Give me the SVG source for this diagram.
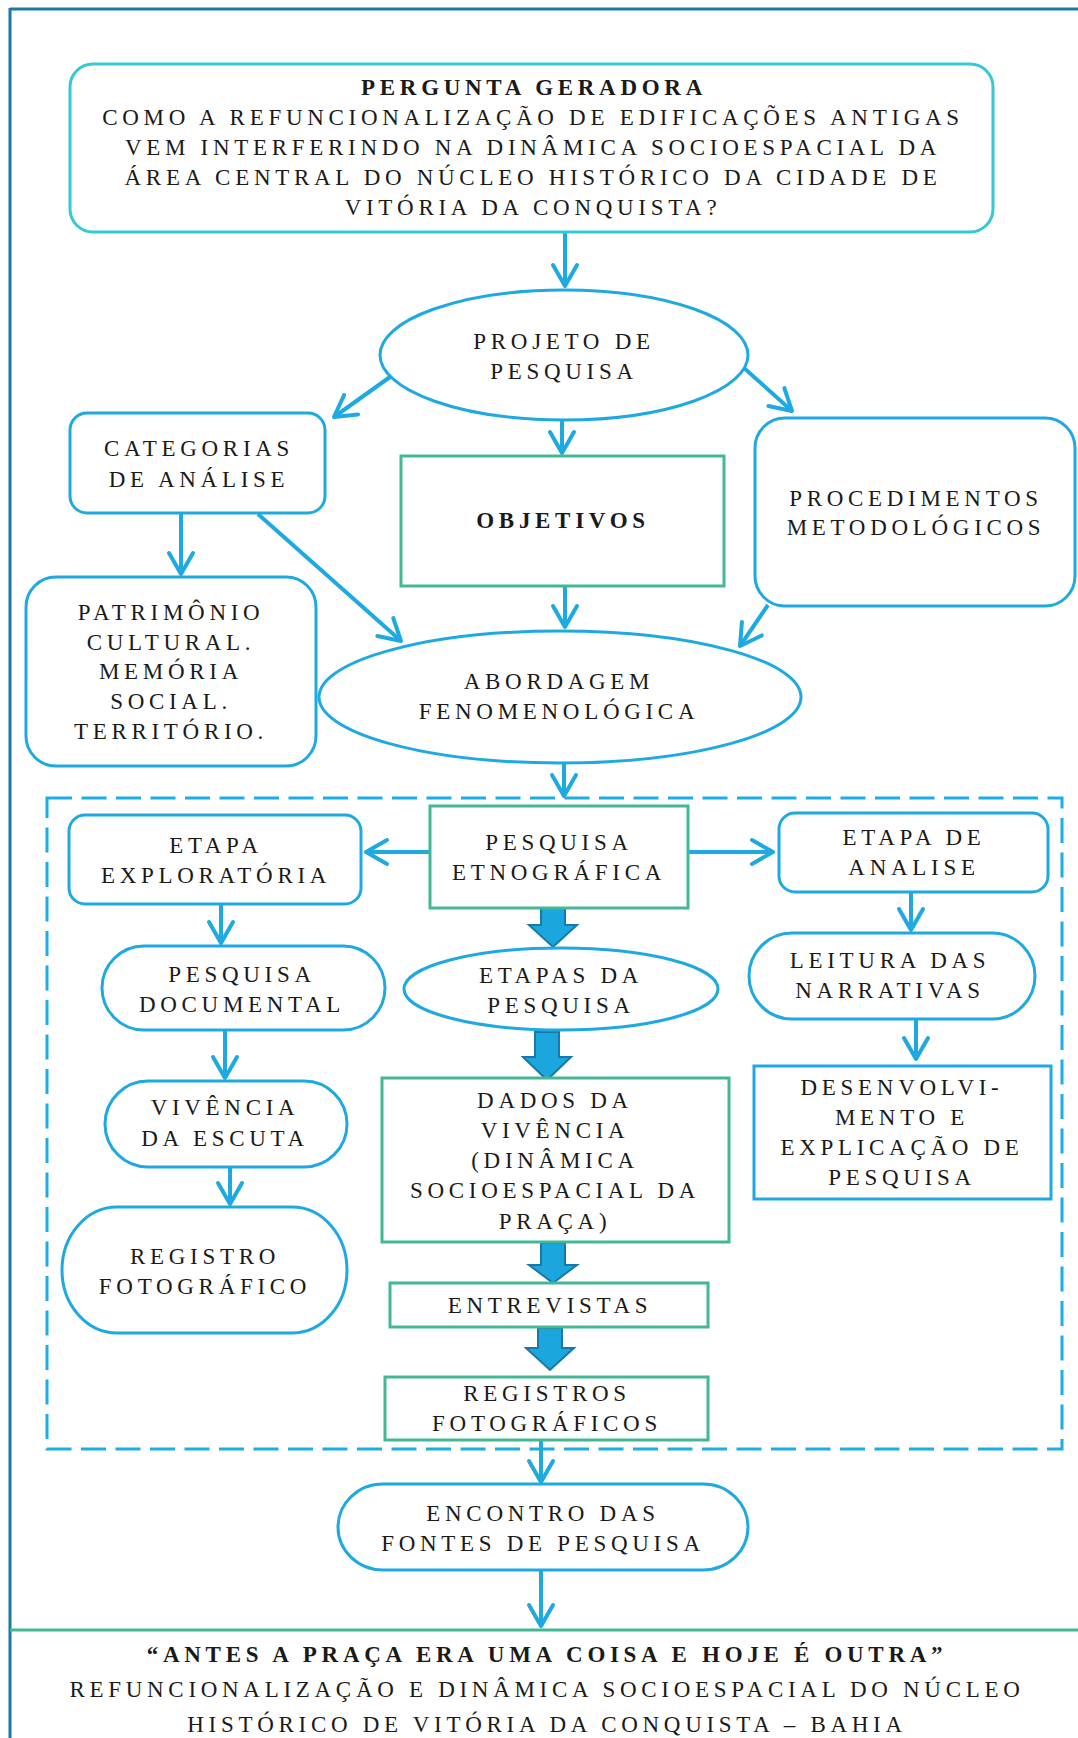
<svg xmlns="http://www.w3.org/2000/svg" width="1078" height="1738" viewBox="0 0 1078 1738">
<style>
.t{font-family:"Liberation Serif","Times New Roman",serif;font-size:23px;letter-spacing:4.7px;fill:#1a1a1a;text-anchor:middle}
.b{font-weight:bold}
.bl{fill:#fff;stroke:#1fa9e1;stroke-width:3}
.gr{fill:#fff;stroke:#43b894;stroke-width:3}
.cy{fill:#fff;stroke:#35c8d5;stroke-width:3}
.ln{fill:none;stroke:#1fa9e1;stroke-width:4;marker-end:url(#ah)}
.blk{fill:#1ba6dd;stroke:#1878a8;stroke-width:2;stroke-linejoin:miter}
</style>
<defs>
<marker id="ah" viewBox="-26 -16 30 32" refX="0" refY="0" markerWidth="30" markerHeight="32" markerUnits="userSpaceOnUse" orient="auto">
<path d="M-21,-12 L0,0 L-21,12" fill="none" stroke="#1fa9e1" stroke-width="4" stroke-linecap="round" stroke-linejoin="round"/>
</marker>
</defs>
<rect width="1078" height="1738" fill="#fff"/>
<g id="frame">
<line x1="10" y1="9" x2="1078" y2="9" stroke="#1a7aa0" stroke-width="3"/>
<line x1="10" y1="8" x2="10" y2="1738" stroke="#1a7aa0" stroke-width="3"/>
<line x1="10" y1="1630" x2="1078" y2="1630" stroke="#43b894" stroke-width="3"/>
<rect x="47" y="798" width="1015" height="651" fill="none" stroke="#1aaee9" stroke-width="3" stroke-dasharray="25 9.5"/>
</g>
<g id="connectors">
<path class="ln" d="M565,233 L565,286"/>
<path class="ln" d="M390,377 L334,417"/>
<path class="ln" d="M744,368 L792,411"/>
<path class="ln" d="M562,420 L562,453"/>
<path class="ln" d="M181,514 L181,574"/>
<path class="ln" d="M258,514 L401,641"/>
<path class="ln" d="M565,587 L565,627"/>
<path class="ln" d="M768,605 L740,646"/>
<path class="ln" d="M564,763 L564,796"/>
<path class="ln" d="M430,852 L366,852"/>
<path class="ln" d="M688,852 L773,852"/>
<path class="ln" d="M221,905 L221,943"/>
<path class="ln" d="M911,893 L911,930"/>
<path class="ln" d="M225,1031 L225,1078"/>
<path class="ln" d="M916,1020 L916,1059"/>
<path class="ln" d="M230,1168 L230,1204"/>
<path class="ln" d="M541,1441 L541,1482"/>
<path class="ln" d="M541,1571 L541,1626"/>
<polygon class="blk" points="541,908 565,908 565,925 577,925 553,947 529,925 541,925"/>
<polygon class="blk" points="535,1032 559,1032 559,1057 571,1057 547,1080 523,1057 535,1057"/>
<polygon class="blk" points="541,1243 565,1243 565,1265 577,1265 553,1283 529,1265 541,1265"/>
<polygon class="blk" points="538,1328 562,1328 562,1348 574,1348 550,1370 526,1348 538,1348"/>
</g>
<g id="pergunta">
<rect class="cy" x="70" y="64" width="923" height="168" rx="23"/>
<text class="t b" x="534" y="95">PERGUNTA GERADORA</text>
<text class="t" x="533" y="125">COMO A REFUNCIONALIZAÇÃO DE EDIFICAÇÕES ANTIGAS</text>
<text class="t" x="533" y="155">VEM INTERFERINDO NA DINÂMICA SOCIOESPACIAL DA</text>
<text class="t" x="533" y="185">ÁREA CENTRAL DO NÚCLEO HISTÓRICO DA CIDADE DE</text>
<text class="t" x="533" y="215">VITÓRIA DA CONQUISTA?</text>
</g>
<g id="projeto">
<ellipse class="bl" cx="564" cy="355" rx="184" ry="65"/>
<text class="t" x="564" y="349">PROJETO DE</text>
<text class="t" x="564" y="379">PESQUISA</text>
</g>
<g id="categorias">
<rect class="bl" x="70" y="413" width="255" height="100" rx="17"/>
<text class="t" x="199" y="456">CATEGORIAS</text>
<text class="t" x="199" y="487">DE ANÁLISE</text>
</g>
<g id="objetivos">
<rect class="gr" x="401" y="456" width="323" height="130"/>
<text class="t b" x="563" y="528">OBJETIVOS</text>
</g>
<g id="procedimentos">
<rect class="bl" x="755" y="418" width="320" height="188" rx="30"/>
<text class="t" x="916" y="506">PROCEDIMENTOS</text>
<text class="t" x="916" y="535">METODOLÓGICOS</text>
</g>
<g id="patrimonio">
<rect class="bl" x="26" y="577" width="290" height="189" rx="30"/>
<text class="t" x="171" y="620">PATRIMÔNIO</text>
<text class="t" x="171" y="650">CULTURAL.</text>
<text class="t" x="171" y="679">MEMÓRIA</text>
<text class="t" x="171" y="709">SOCIAL.</text>
<text class="t" x="171" y="739">TERRITÓRIO.</text>
</g>
<g id="abordagem">
<ellipse class="bl" cx="560" cy="697" rx="241" ry="66"/>
<text class="t" x="559" y="689">ABORDAGEM</text>
<text class="t" x="559" y="719">FENOMENOLÓGICA</text>
</g>
<g id="exploratoria">
<rect class="bl" x="69" y="815" width="292" height="89" rx="16"/>
<text class="t" x="216" y="853">ETAPA</text>
<text class="t" x="216" y="883">EXPLORATÓRIA</text>
</g>
<g id="etnografica">
<rect class="gr" x="430" y="806" width="258" height="102"/>
<text class="t" x="559" y="850">PESQUISA</text>
<text class="t" x="559" y="880">ETNOGRÁFICA</text>
</g>
<g id="analise">
<rect class="bl" x="779" y="813" width="269" height="79" rx="16"/>
<text class="t" x="914" y="845">ETAPA DE</text>
<text class="t" x="914" y="875">ANALISE</text>
</g>
<g id="documental">
<rect class="bl" x="102" y="946" width="283" height="84" rx="42" ry="42"/>
<text class="t" x="242" y="982">PESQUISA</text>
<text class="t" x="242" y="1012">DOCUMENTAL</text>
</g>
<g id="etapas">
<ellipse class="bl" cx="561" cy="989" rx="157" ry="41"/>
<text class="t" x="561" y="983">ETAPAS DA</text>
<text class="t" x="561" y="1013">PESQUISA</text>
</g>
<g id="leitura">
<rect class="bl" x="749" y="933" width="286" height="86" rx="43" ry="43"/>
<text class="t" x="890" y="968">LEITURA DAS</text>
<text class="t" x="890" y="998">NARRATIVAS</text>
</g>
<g id="vivencia">
<rect class="bl" x="105" y="1081" width="242" height="86" rx="43" ry="43"/>
<text class="t" x="225" y="1115">VIVÊNCIA</text>
<text class="t" x="225" y="1146">DA ESCUTA</text>
</g>
<g id="dados">
<rect class="gr" x="382" y="1078" width="347" height="164"/>
<text class="t" x="555" y="1108">DADOS DA</text>
<text class="t" x="555" y="1138">VIVÊNCIA</text>
<text class="t" x="555" y="1168">(DINÂMICA</text>
<text class="t" x="555" y="1198">SOCIOESPACIAL DA</text>
<text class="t" x="555" y="1229">PRAÇA)</text>
</g>
<g id="desenvolvimento">
<rect class="bl" x="754" y="1066" width="297" height="133"/>
<text class="t" x="902" y="1095">DESENVOLVI-</text>
<text class="t" x="902" y="1125">MENTO E</text>
<text class="t" x="902" y="1155">EXPLICAÇÃO DE</text>
<text class="t" x="902" y="1185">PESQUISA</text>
</g>
<g id="registro">
<rect class="bl" x="62" y="1207" width="285" height="126" rx="55" ry="63"/>
<text class="t" x="205" y="1264">REGISTRO</text>
<text class="t" x="205" y="1294">FOTOGRÁFICO</text>
</g>
<g id="entrevistas">
<rect class="gr" x="390" y="1283" width="318" height="44"/>
<text class="t" x="550" y="1313">ENTREVISTAS</text>
</g>
<g id="registros">
<rect class="gr" x="385" y="1377" width="323" height="63"/>
<text class="t" x="547" y="1401">REGISTROS</text>
<text class="t" x="547" y="1431">FOTOGRÁFICOS</text>
</g>
<g id="encontro">
<rect class="bl" x="338" y="1484" width="410" height="86" rx="45" ry="43"/>
<text class="t" x="543" y="1521">ENCONTRO DAS</text>
<text class="t" x="543" y="1551">FONTES DE PESQUISA</text>
</g>
<g id="titulo">
<text class="t b" x="547" y="1662">“ANTES A PRAÇA ERA UMA COISA E HOJE É OUTRA”</text>
<text class="t" x="547" y="1697">REFUNCIONALIZAÇÃO E DINÂMICA SOCIOESPACIAL DO NÚCLEO</text>
<text class="t" x="547" y="1732">HISTÓRICO DE VITÓRIA DA CONQUISTA – BAHIA</text>
</g>
</svg>
